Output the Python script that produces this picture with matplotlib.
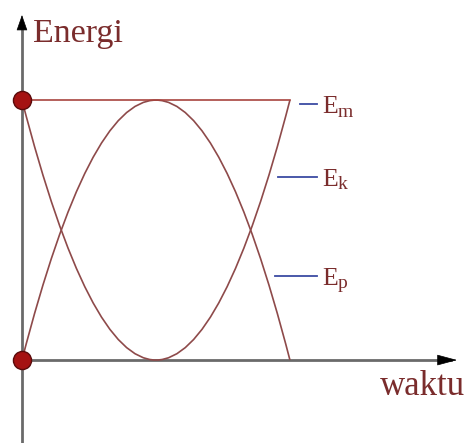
"""
Energy of a simple harmonic oscillator over one half period:
potential (Ep), kinetic (Ek) and total mechanical energy (Em).
"""

import matplotlib
matplotlib.use("Agg")
import matplotlib.pyplot as plt
from matplotlib.path import Path
from matplotlib.patches import PathPatch


plt.rcParams.update({
    "font.family": "Liberation Serif",
})

# ---------------------------------------------------------------------
# Data
# ---------------------------------------------------------------------

E_MAX = 1.0

# time of start, turning point and end (normalised)
t_points = [0.0, 0.5, 1.0]

# quadratic Bezier control values for each energy curve
ep_ctrl = [E_MAX, -E_MAX, E_MAX]
ek_ctrl = [0.0, 2 * E_MAX, 0.0]

# total energy stays constant
em_t = [0.0, 1.0]
em_vals = [E_MAX, E_MAX]

# marked points at t = 0
dot_t = [0.0, 0.0]
dot_e = [E_MAX, 0.0]

legend_subs = ["m", "k", "p"]
legend_levels = [0.985, 0.705, 0.325]
legend_starts = [1.037, 0.955, 0.944]

# ---------------------------------------------------------------------
# Style
# ---------------------------------------------------------------------

CURVE_COLOR = "#8e4a4a"
EM_COLOR = "#a8443e"
TEXT_COLOR = "#7a2c2c"
AXIS_COLOR = "#6a6a6a"
DASH_COLOR = "#3b4ba3"

fig = plt.figure(figsize=(4.70, 4.43), dpi=100)
ax = fig.add_axes([0, 0, 1, 1])
ax.set_xlim(-0.082, 1.672)
ax.set_ylim(-0.319, 1.385)
ax.axis("off")

# axes with arrow heads
ax.plot([0, 0], [-0.32, 1.30], color=AXIS_COLOR, lw=2.0, zorder=2)
ax.plot([0, 1.60], [0, 0], color=AXIS_COLOR, lw=2.0, zorder=2)
ax.annotate("", xy=(0, 1.338), xytext=(0, 1.28),
            arrowprops=dict(arrowstyle="-|>,head_length=1.0,head_width=0.35",
                            color="black", lw=0.5), zorder=3)
ax.annotate("", xy=(1.634, 0), xytext=(1.57, 0),
            arrowprops=dict(arrowstyle="-|>,head_length=1.3,head_width=0.35",
                            color="black", lw=0.5), zorder=3)

# energy curves as parabolas (quadratic Bezier)
codes = [Path.MOVETO, Path.CURVE3, Path.CURVE3]
for ctrl in (ep_ctrl, ek_ctrl):
    path = Path(list(zip(t_points, ctrl)), codes)
    ax.add_patch(PathPatch(path, facecolor="none", edgecolor=CURVE_COLOR,
                           lw=1.2, zorder=4))

ax.plot(em_t, em_vals, color=EM_COLOR, lw=1.2, zorder=4)

ax.scatter(dot_t, dot_e, s=170, color="#a51212", edgecolors="#5a0a0a",
           linewidths=1.0, zorder=6)

# axis titles
ax.text(0.041, 1.223, "Energi", fontsize=24.5, color=TEXT_COLOR,
        ha="left", va="baseline")
ax.text(1.336, -0.135, "waktu", fontsize=25, color=TEXT_COLOR,
        ha="left", va="baseline")

# legend: short blue dash followed by E with a subscript
for sub, level, x0 in zip(legend_subs, legend_levels, legend_starts):
    ax.plot([x0, 1.101], [level, level], color=DASH_COLOR, lw=1.3)
    ax.text(1.119, level - 0.035, "E", fontsize=18.5, color=TEXT_COLOR,
            ha="left", va="baseline")
    ax.annotate(sub, xy=(1.119, level - 0.035), xytext=(11.5, -2.5),
                textcoords="offset points", fontsize=14, color=TEXT_COLOR,
                ha="left", va="baseline")

fig.savefig("out.png", dpi=100)
